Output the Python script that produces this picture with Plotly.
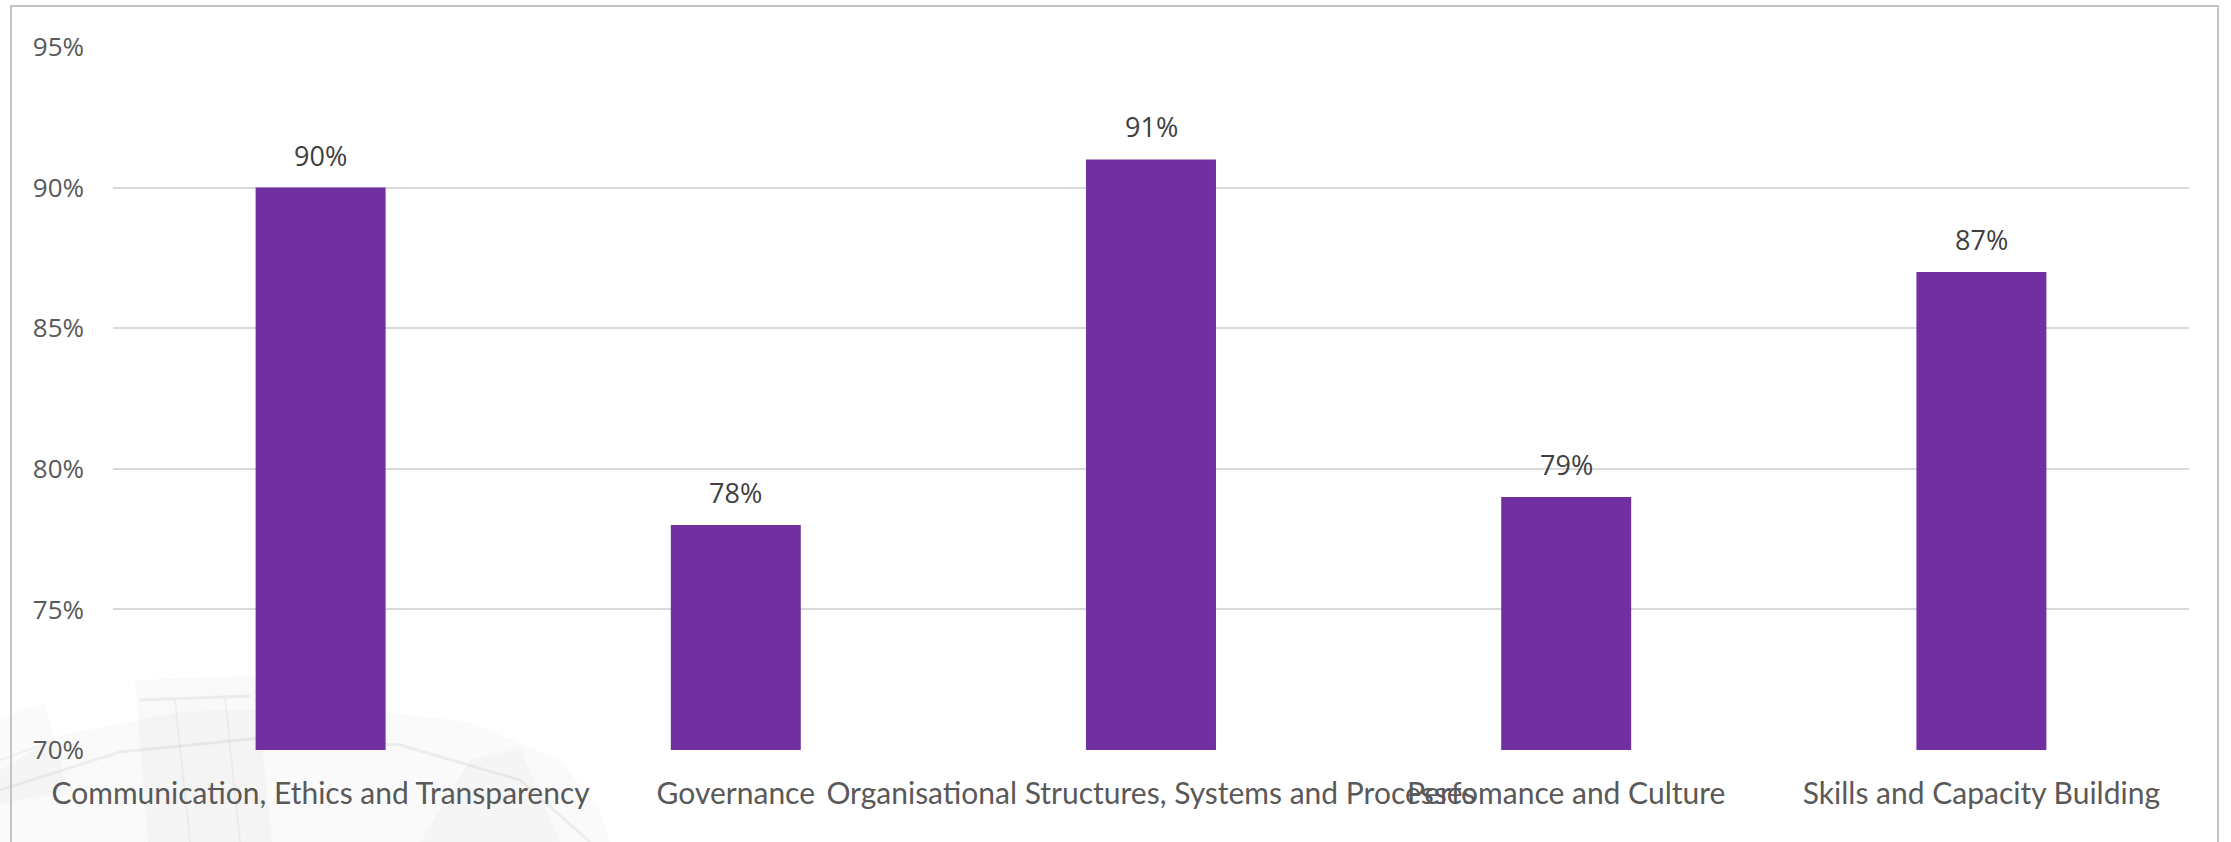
import plotly.graph_objects as go

categories = [
    "Communication, Ethics and Transparency",
    "Governance",
    "Organisational Structures, Systems and Processes",
    "Perfomance and Culture",
    "Skills and Capacity Building",
]
scores = [0.90, 0.78, 0.91, 0.79, 0.87]
y_ticks = [0.70, 0.75, 0.80, 0.85, 0.90, 0.95]
y_tick_labels = ["70%", "75%", "80%", "85%", "90%", "95%"]

W, H = 2231, 842
ML, MR, MT, MB = 113, 42, 47, 92
PW, PH = W - ML - MR, H - MT - MB


def px(x, y):
    """Pixel position on the page -> paper coordinates."""
    return (x - ML) / PW, (H - MB - y) / PH


fig = go.Figure()
fig.add_trace(go.Bar(
    x=categories,
    y=scores,
    width=0.313,
    marker=dict(color="#7030A0", line=dict(width=0)),
    hoverinfo="skip",
))

# value labels above each bar
for c, v in zip(categories, scores):
    fig.add_annotation(
        x=c, y=v, text=f"{v * 100:.0f}%", showarrow=False,
        yanchor="bottom", yshift=12,
        font=dict(family="Open Sans", size=27, color="#404040"),
    )

shapes = []
# outer chart frame
x0, y0 = px(11, 6)
x1, y1 = px(2218, 900)
shapes.append(dict(type="rect", xref="paper", yref="paper", x0=x0, y0=y1, x1=x1, y1=y0,
                   line=dict(color="#c4c4c4", width=2), fillcolor="rgba(0,0,0,0)", layer="above"))


# faint gear ornament in the lower-left corner
def poly(points, fill):
    pts = [px(a, b) for a, b in points]
    d = "M " + " L ".join(f"{a:.5f},{b:.5f}" for a, b in pts) + " Z"
    return dict(type="path", xref="paper", yref="paper", path=d,
                fillcolor=fill, line=dict(width=0), layer="below")


def stroke(points, color, width=2):
    pts = [px(a, b) for a, b in points]
    d = "M " + " L ".join(f"{a:.5f},{b:.5f}" for a, b in pts)
    return dict(type="path", xref="paper", yref="paper", path=d,
                line=dict(color=color, width=width), layer="below")


shapes.append(poly([(0, 770), (60, 735), (180, 712), (330, 706), (470, 722), (560, 760),
                    (600, 810), (610, 842), (0, 842)], "rgba(0,0,0,0.018)"))
shapes.append(poly([(135, 680), (255, 676), (272, 842), (148, 842)], "rgba(0,0,0,0.022)"))
shapes.append(poly([(0, 718), (45, 702), (68, 790), (0, 805)], "rgba(0,0,0,0.02)"))
shapes.append(poly([(420, 842), (470, 760), (520, 748), (560, 842)], "rgba(0,0,0,0.018)"))
shapes.append(stroke([(0, 790), (120, 752), (260, 738), (400, 745), (520, 780), (590, 842)],
                     "rgba(0,0,0,0.05)", 3))
shapes.append(stroke([(140, 700), (250, 696)], "rgba(0,0,0,0.05)", 3))
shapes.append(stroke([(175, 700), (190, 842)], "rgba(0,0,0,0.04)", 2))
shapes.append(stroke([(225, 698), (240, 842)], "rgba(0,0,0,0.04)", 2))
shapes.append(stroke([(0, 760), (55, 740)], "rgba(0,0,0,0.04)", 2))

fig.update_layout(
    width=W, height=H,
    margin=dict(l=ML, r=MR, t=MT, b=MB, pad=0),
    paper_bgcolor="white",
    plot_bgcolor="rgba(0,0,0,0)",
    showlegend=False,
    shapes=shapes,
    xaxis=dict(
        type="category",
        showgrid=False,
        showline=False,
        zeroline=False,
        ticks="",
        tickangle=0,
        ticklabelstandoff=23,
        tickfont=dict(family="Lato", size=30, color="#595959"),
    ),
    yaxis=dict(
        range=[0.70, 0.95],
        tickvals=y_ticks,
        ticktext=y_tick_labels,
        showgrid=True,
        gridcolor="#d9d9d9",
        gridwidth=2,
        zeroline=False,
        showline=False,
        ticks="",
        ticklabelstandoff=28,
        tickfont=dict(family="Open Sans", size=26, color="#595959"),
    ),
)

fig.write_html("out.html")
